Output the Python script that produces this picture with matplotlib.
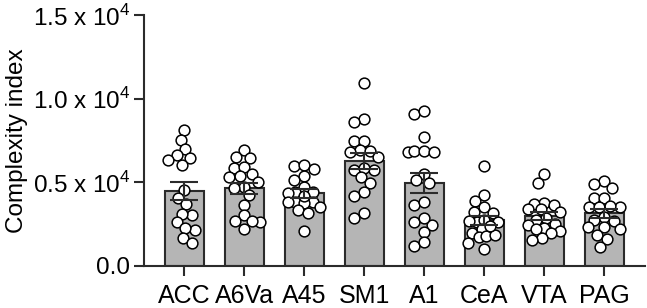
import matplotlib
matplotlib.use("Agg")
import matplotlib.pyplot as plt
import numpy as np

plt.rcParams['font.family'] = ['Liberation Sans', 'DejaVu Sans']
plt.rcParams['mathtext.fontset'] = 'custom'
plt.rcParams['mathtext.rm'] = 'Liberation Sans'

# regions and per-animal complexity index values
regions = ["ACC", "A6Va", "A45", "SM1", "A1", "CeA", "VTA", "PAG"]
acc = [8120, 7540, 6990, 6610, 6450, 6310, 6050, 4550, 4050, 3690, 3050, 3130,
       2610, 2130, 2250, 1660, 1360]
a6va = [6930, 6530, 6440, 5830, 5910, 5520, 5310, 5350, 5030, 4750, 4670, 4230,
        3630, 3030, 2690, 2650, 2670, 2220]
a45 = [5990, 6050, 5790, 5390, 5150, 4750, 4450, 4450, 4350, 3850, 3850, 3850,
       3750, 3350, 3510, 3150, 2110, 4200]
sm1 = [10940, 8780, 8580, 7500, 7500, 6950, 6790, 6890, 6510, 5750, 5750, 5830,
       5310, 4990, 4410, 4210, 2890, 3150]
a1 = [9100, 9240, 7710, 6790, 6850, 6890, 6790, 5510, 5150, 4990, 3650, 3850,
      2460, 2060, 2650, 2860, 1220, 1460]
cea = [5990, 4250, 3910, 3250, 3510, 3190, 2650, 2710, 2750, 2650, 1960, 2200,
       1720, 1800, 1860, 1400, 1020, 2400]
vta = [5490, 4990, 3790, 3710, 3650, 3390, 3390, 3200, 2850, 2750, 2510, 2450,
       2250, 2200, 2110, 1960, 1660, 1560]
pag = [5050, 4910, 4650, 4090, 4090, 3550, 3510, 3550, 3590, 2920, 2750, 2710,
       2320, 2220, 2320, 1860, 1600, 1160]
groups = [acc, a6va, a45, sm1, a1, cea, vta, pag]

ytick_vals = [0, 5000, 10000, 15000]
ytick_labels = ["0.0", "0.5 x 10$^4$", "1.0 x 10$^4$", "1.5 x 10$^4$"]

W, H, DPI = 647, 308, 100
fig = plt.figure(figsize=(W / DPI, H / DPI), dpi=DPI)
ax = fig.add_axes([144 / W, 42 / H, 501 / W, 251 / H])
xlim = (-0.672, 7.678)
ylim = (0, 15000)
ax.set_xlim(*xlim)
ax.set_ylim(*ylim)

dark = "#2b2b2b"
x = np.arange(len(regions))
means = [np.mean(g) for g in groups]
sems = [np.std(g, ddof=1) / np.sqrt(len(g)) for g in groups]

ax.bar(x, means, width=0.64, color="#b5b5b5", edgecolor=dark, linewidth=1.5, zorder=1)

# beeswarm in pixel space, kept inside the bar width
px_x = 501 / (xlim[1] - xlim[0])
px_y = 251 / (ylim[1] - ylim[0])
diam = 10.0
cands = sorted(np.arange(-16, 16.1, 1.0), key=abs)
for i, g in enumerate(groups):
    vals = np.array(g, dtype=float)
    order = np.argsort(vals)[::-1]
    placed = []
    xs = np.zeros(len(vals))
    for k in order:
        yp = vals[k] * px_y
        best, best_d = 0.0, -1
        for c in cands:
            d = min([np.hypot(c - px, yp - py) for px, py in placed] or [99])
            if d >= diam:
                best = c
                break
            if d > best_d + 0.5:
                best, best_d = c, d
        placed.append((best, yp))
        xs[k] = i + best / px_x
    ax.scatter(xs, vals, s=60, facecolor="white", edgecolor="black",
               linewidth=1.1, zorder=2)

ax.errorbar(x, means, yerr=sems, fmt="none", ecolor=dark, elinewidth=1.5,
            capsize=10, capthick=1.5, zorder=3)

for s in ["top", "right"]:
    ax.spines[s].set_visible(False)
for s in ["left", "bottom"]:
    ax.spines[s].set_linewidth(1.5)
    ax.spines[s].set_color(dark)

ax.set_xticks(x)
ax.set_xticklabels(regions, fontsize=18)
ax.set_yticks(ytick_vals)
ax.set_yticklabels(ytick_labels, fontsize=17.5)
ax.tick_params(axis="both", length=7, width=1.5, color=dark)
ax.tick_params(axis="x", pad=6)
ax.tick_params(axis="y", pad=3)
ax.set_ylabel("Complexity index", fontsize=17.5, labelpad=3)

fig.savefig("out.png", dpi=DPI)
